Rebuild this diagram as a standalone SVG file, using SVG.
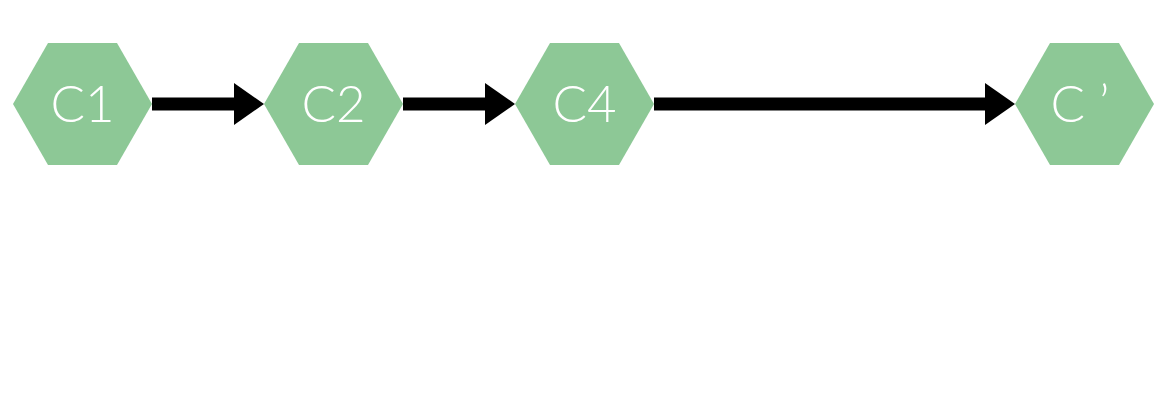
<svg xmlns="http://www.w3.org/2000/svg" width="1167" height="417" viewBox="0 0 1167 417">
<defs>
<style>
.hex{fill:#8dc896;}
.lbl{fill:#ffffff;font-family:Lato,"Open Sans","Liberation Sans",sans-serif;font-weight:300;font-size:51px;text-anchor:middle;}
.edge{stroke:#000;stroke-width:13;fill:none;}
.head{fill:#000;}
</style>
<polygon id="hexshape" points="-69.5,0 -34.5,-61 34.5,-61 69.5,0 34.5,61 -34.5,61"/>
</defs>
<rect width="1167" height="417" fill="#ffffff"/>
<g id="connectors">
<line class="edge" x1="152" y1="104" x2="236" y2="104"/>
<polygon class="head" points="234,83 264,104 234,125"/>
<line class="edge" x1="403" y1="104" x2="487" y2="104"/>
<polygon class="head" points="485,83 515,104 485,125"/>
<line class="edge" x1="654" y1="104" x2="987" y2="104"/>
<polygon class="head" points="985,83 1015,104 985,125"/>
</g>
<g id="C1">
<use href="#hexshape" class="hex" x="82.5" y="104"/>
<text class="lbl" x="82.5" y="122">C1</text>
</g>
<g id="C2">
<use href="#hexshape" class="hex" x="333.5" y="104"/>
<text class="lbl" x="333.5" y="122">C2</text>
</g>
<g id="C4">
<use href="#hexshape" class="hex" x="584.5" y="104"/>
<text class="lbl" x="584.5" y="122">C4</text>
</g>
<g id="Cprime">
<use href="#hexshape" class="hex" x="1084.5" y="104"/>
<text class="lbl" x="1080" y="122">C ’</text>
</g>
</svg>
